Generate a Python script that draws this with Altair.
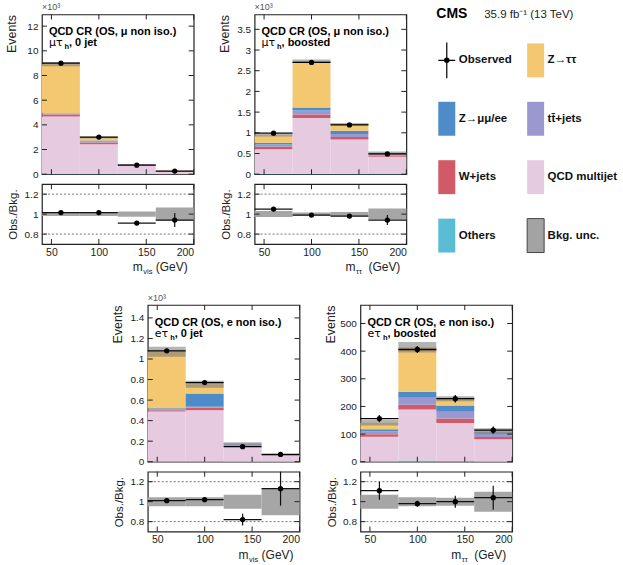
import altair as alt
import pandas as pd

FONT = "Liberation Sans"

# ---------------- shared binning ----------------
bin_lo = [40, 80, 120, 160]
bin_hi = [80, 120, 160, 200]
bin_mid = [60, 100, 140, 180]

# stacking order: bottom -> top
proc_names = ["Others", "QCD multijet", "W+jets", "tt\u0304+jets", "Z→μμ/ee", "Z→ττ"]
proc_colors = ["#5bbdd3", "#e6cae0", "#d25a66", "#9b98cf", "#4d8cc8", "#f3c870"]

# ---------------- panel 1: mu tau_h, 0 jet (x10^3) ----------------
p1_others = [0.02, 0.02, 0.005, 0.003]
p1_qcd = [4.65, 2.40, 0.72, 0.235]
p1_wjets = [0.17, 0.14, 0.04, 0.015]
p1_ttbar = [0.05, 0.08, 0.02, 0.010]
p1_zll = [0.05, 0.10, 0.01, 0.004]
p1_ztt = [3.98, 0.24, 0.005, 0.003]
p1_obs = [9.00, 3.01, 0.73, 0.255]
p1_ratio = [1.015, 1.015, 0.91, 0.94]
p1_ratio_err = [0.01, 0.015, 0.02, 0.07]
p1_unc = [0.02, 0.02, 0.027, 0.065]
p1_yticks = [0, 2, 4, 6, 8, 10, 12]

# ---------------- panel 2: mu tau_h, boosted (x10^3) ----------------
p2_others = [0.01, 0.01, 0.01, 0.005]
p2_qcd = [0.59, 1.35, 0.83, 0.415]
p2_wjets = [0.06, 0.08, 0.06, 0.03]
p2_ttbar = [0.06, 0.10, 0.07, 0.04]
p2_zll = [0.04, 0.07, 0.08, 0.015]
p2_ztt = [0.18, 1.12, 0.16, 0.015]
p2_obs = [0.99, 2.70, 1.19, 0.49]
p2_ratio = [1.05, 0.99, 0.98, 0.94]
p2_ratio_err = [0.02, 0.015, 0.02, 0.05]
p2_unc = [0.03, 0.015, 0.02, 0.055]
p2_yticks = [0, 0.5, 1, 1.5, 2, 2.5, 3, 3.5]

# ---------------- panel 3: e tau_h, 0 jet (x10^3) ----------------
p3_others = [0.005, 0.005, 0.003, 0.001]
p3_qcd = [0.485, 0.495, 0.152, 0.056]
p3_wjets = [0.01, 0.025, 0.008, 0.003]
p3_ttbar = [0.01, 0.01, 0.007, 0.002]
p3_zll = [0.01, 0.13, 0.005, 0.001]
p3_ztt = [0.55, 0.09, 0.003, 0.0]
p3_obs = [1.08, 0.77, 0.146, 0.071]
p3_ratio = [1.01, 1.02, 0.82, 1.13]
p3_ratio_err = [0.015, 0.02, 0.06, 0.17]
p3_unc = [0.045, 0.045, 0.07, 0.135]
p3_yticks = [0, 0.2, 0.4, 0.6, 0.8, 1, 1.2, 1.4]

# ---------------- panel 4: e tau_h, boosted ----------------
p4_others = [2, 4, 3, 1]
p4_qcd = [88, 185, 137, 80]
p4_wjets = [9, 17, 16, 8]
p4_ttbar = [11, 25, 25, 14]
p4_zll = [7, 22, 22, 4]
p4_ztt = [24, 161, 25, 3]
p4_obs = [156, 406, 228, 114]
p4_ratio = [1.11, 0.98, 1.0, 1.04]
p4_ratio_err = [0.09, 0.03, 0.06, 0.12]
p4_unc = [0.07, 0.045, 0.04, 0.10]
p4_yticks = [0, 100, 200, 300, 400, 500]

# ---------------- texts ----------------
panel_title = ["QCD CR (OS, μ non iso.)", "QCD CR (OS, μ non iso.)",
               "QCD CR (OS, e non iso.)", "QCD CR (OS, e non iso.)"]
panel_chan = ["μτ", "μτ", "eτ", "eτ"]
panel_cat = [", 0 jet", ", boosted", ", 0 jet", ", boosted"]
panel_xsub = ["vis", "ττ", "vis", "ττ"]
panel_exp = ["×10³", "×10³", "×10³", ""]
ratio_grid = [0.8, 1.2]
ratio_ticks = [0.8, 1, 1.2]
x_ticks = [50, 100, 150, 200]

leg_labels = ["Observed", "Z→ττ", "Z→μμ/ee", "tt\u0304+jets", "W+jets", "QCD multijet", "Others", "Bkg. unc."]
leg_col = [0, 1, 0, 1, 0, 1, 0, 1]
leg_row = [0, 0, 1, 1, 2, 2, 3, 3]
cms_label = ["CMS"]
lumi_label = ["35.9 fb⁻¹ (13 TeV)"]

W = 152
FRAME = alt.ViewBackground(stroke="#222222", strokeWidth=1.2)
XSCALE = alt.Scale(domain=[40, 200], nice=False, zero=False)
TICK_COLOR = "#222222"


def edge_ticks(X, Y, yvals, h):
    """Inward-pointing major ticks on all four frame edges."""
    ydf = pd.DataFrame(dict(v=yvals))
    xdf = pd.DataFrame(dict(v=x_ticks))
    out = []
    for xv in (2.5, W - 2.5):
        out.append(alt.Chart(ydf).mark_tick(size=5, thickness=1, color=TICK_COLOR, opacity=1).encode(
            y=Y("v:Q"), x=alt.value(xv)))
    for yv in (2.5, h - 2.5):
        out.append(alt.Chart(xdf).mark_tick(size=5, thickness=1, color=TICK_COLOR, opacity=1).encode(
            x=X("v:Q"), y=alt.value(yv)))
    return out


def make_main(k, comps, obs, ratio, ratio_err, unc, ymax, yticks, h):
    rows = []
    for b in range(4):
        base = 0.0
        for name, vals in zip(proc_names, comps):
            rows.append(dict(lo=bin_lo[b], hi=bin_hi[b], y0=base, y1=base + vals[b], proc=name))
            base += vals[b]
    stack = pd.DataFrame(rows)
    tot = [sum(c[b] for c in comps) for b in range(4)]
    bins = pd.DataFrame(dict(lo=bin_lo, hi=bin_hi, mid=bin_mid, tot=tot, obs=obs,
                             ratio=ratio, rerr=ratio_err, unc=unc))
    bins["blo"] = bins["tot"] * (1 - bins["unc"])
    bins["bhi"] = bins["tot"] * (1 + bins["unc"])
    bins["err"] = bins["obs"] * bins["rerr"] / bins["ratio"]
    bins["elo"] = bins["obs"] - bins["err"]
    bins["ehi"] = bins["obs"] + bins["err"]

    ys = alt.Scale(domain=[0, ymax], nice=False, zero=True)
    yax = alt.Axis(values=yticks, format=".1~f", title="Events", titleAnchor="end",
                   titleX=-23, titleFontSize=12.5, titleFontWeight="normal",
                   grid=False, ticks=False, domain=False, labelPadding=4)

    def X(f):
        return alt.X(f, scale=XSCALE, axis=None)

    def Y(f):
        return alt.Y(f, scale=ys, axis=yax)

    stk = alt.Chart(stack).mark_rect().encode(
        x=X("lo:Q"), x2="hi:Q", y=Y("y0:Q"), y2="y1:Q",
        color=alt.Color("proc:N", scale=alt.Scale(domain=proc_names, range=proc_colors), legend=None))
    band = alt.Chart(bins).mark_rect(color="#777777", opacity=0.55).encode(
        x=X("lo:Q"), x2="hi:Q", y=Y("blo:Q"), y2="bhi:Q")
    hbar = alt.Chart(bins).mark_rule(color="black", strokeWidth=1.3).encode(
        x=X("lo:Q"), x2="hi:Q", y=Y("obs:Q"))
    vbar = alt.Chart(bins).mark_rule(color="black", strokeWidth=1.3).encode(
        x=X("mid:Q"), y=Y("elo:Q"), y2="ehi:Q")
    pts = alt.Chart(bins).mark_circle(color="black", size=28, opacity=1).encode(
        x=X("mid:Q"), y=Y("obs:Q"))

    tdf = pd.DataFrame(dict(title=[panel_title[k]], chan=[panel_chan[k]], cat=[panel_cat[k]], sub=["h"]))
    t1 = alt.Chart(tdf).mark_text(align="left", baseline="alphabetic", fontSize=11, fontWeight="bold",
                                  color="black").encode(x=alt.value(7), y=alt.value(21), text="title:N")
    t2 = alt.Chart(tdf).mark_text(align="left", baseline="alphabetic", fontSize=11, font="DejaVu Sans",
                                  color="black").encode(x=alt.value(7), y=alt.value(32), text="chan:N")
    t3 = alt.Chart(tdf).mark_text(align="left", baseline="alphabetic", fontSize=7.5, fontWeight="bold",
                                  color="black").encode(x=alt.value(22.5), y=alt.value(35), text="sub:N")
    t4 = alt.Chart(tdf).mark_text(align="left", baseline="alphabetic", fontSize=11, fontWeight="bold",
                                  color="black").encode(x=alt.value(27), y=alt.value(32), text="cat:N")

    props = dict(width=W, height=h, view=FRAME)
    if panel_exp[k]:
        props["title"] = alt.TitleParams(text=panel_exp[k], anchor="start", frame="group", fontSize=9,
                                         fontWeight="normal", color="#555555", offset=2)
    layers = [stk, band, hbar, vbar, pts] + edge_ticks(X, Y, yticks, h) + [t1, t2, t3, t4]
    return alt.layer(*layers).properties(**props)


def make_ratio(k, ratio, ratio_err, unc):
    df = pd.DataFrame(dict(lo=bin_lo, hi=bin_hi, mid=bin_mid, r=ratio, e=ratio_err, u=unc))
    df["blo"] = 1 - df["u"]
    df["bhi"] = 1 + df["u"]
    df["elo"] = df["r"] - df["e"]
    df["ehi"] = df["r"] + df["e"]
    ys = alt.Scale(domain=[0.7, 1.3], nice=False, zero=False)
    yax = alt.Axis(values=ratio_ticks, format=".1~f", title="Obs./Bkg.", titleX=-23,
                   titleFontSize=11.5, titleFontWeight="normal",
                   grid=False, ticks=False, domain=False, labelPadding=4)
    xax = alt.Axis(values=x_ticks, title=None, grid=False, ticks=False, domain=False, labelPadding=3,
                   labelFontSize=10.5)

    def X(f):
        return alt.X(f, scale=XSCALE, axis=xax)

    def Y(f):
        return alt.Y(f, scale=ys, axis=yax)

    band = alt.Chart(df).mark_rect(color="#a6a6a6").encode(x=X("lo:Q"), x2="hi:Q", y=Y("blo:Q"), y2="bhi:Q")
    grid = alt.Chart(pd.DataFrame(dict(v=ratio_grid))).mark_rule(
        color="#555555", strokeDash=[2, 2], strokeWidth=0.8).encode(y=Y("v:Q"))
    hbar = alt.Chart(df).mark_rule(color="#111111", strokeWidth=1.2).encode(x=X("lo:Q"), x2="hi:Q", y=Y("r:Q"))
    vbar = alt.Chart(df).mark_rule(color="#111111", strokeWidth=1.2).encode(x=X("mid:Q"), y=Y("elo:Q"), y2="ehi:Q")
    pts = alt.Chart(df).mark_circle(color="black", size=28, opacity=1).encode(x=X("mid:Q"), y=Y("r:Q"))

    tdf = pd.DataFrame(dict(m=["m"], sub=[panel_xsub[k]], gev=["(GeV)"]))
    tm = alt.Chart(tdf).mark_text(align="right", baseline="alphabetic", fontSize=12, color="#222222").encode(
        x=alt.value(101), y=alt.value(87), text="m:N")
    ts = alt.Chart(tdf).mark_text(align="left", baseline="alphabetic", fontSize=7.5, color="#222222").encode(
        x=alt.value(101.5), y=alt.value(90), text="sub:N")
    tg = alt.Chart(tdf).mark_text(align="right", baseline="alphabetic", fontSize=12, color="#222222").encode(
        x=alt.value(146), y=alt.value(87), text="gev:N")
    layers = [band, grid, hbar, vbar, pts] + edge_ticks(X, Y, ratio_ticks, 60) + [tm, ts, tg]
    return alt.layer(*layers).properties(width=W, height=60, view=FRAME)


def make_legend():
    df = pd.DataFrame(dict(label=leg_labels, col=leg_col, row=leg_row))
    xs = alt.Scale(type="band", domain=[0, 1], range=[-29, 77], paddingInner=0.809, paddingOuter=0)
    ys = alt.Scale(type="band", domain=[0, 1, 2, 3], range=[29, 238.5], paddingInner=0.419, paddingOuter=0)
    X = alt.X("col:O", scale=xs, axis=None)
    Y = alt.Y("row:O", scale=ys, axis=None)
    base = alt.Chart(df)
    boxes = base.mark_rect().encode(
        x=X, y=Y,
        color=alt.Color("label:N", scale=alt.Scale(domain=proc_names, range=proc_colors), legend=None)
    ).transform_filter(alt.FieldOneOfPredicate(field="label", oneOf=proc_names))
    unc = base.mark_rect(fill="#a3a3a3", stroke="#444444", strokeWidth=1).encode(x=X, y=Y).transform_filter(
        alt.datum.label == "Bkg. unc.")
    cross = base.mark_point(shape="M-0.47,0L0.47,0M0,-1L0,1", size=1296, filled=False, color="black",
                            strokeWidth=1.2, opacity=1).encode(x=X, y=Y).transform_filter(
        alt.datum.label == "Observed")
    dot = base.mark_circle(color="black", size=30, opacity=1).encode(x=X, y=Y).transform_filter(
        alt.datum.label == "Observed")
    labels = base.mark_text(align="left", baseline="middle", dx=12, fontSize=11.5, fontWeight="bold",
                            color="#111111").encode(x=X, y=Y, text="label:N")
    hdr = pd.DataFrame(dict(cms=cms_label, lumi=lumi_label))
    cms = alt.Chart(hdr).mark_text(align="left", baseline="alphabetic", fontSize=14, fontWeight="bold",
                                   color="black").encode(x=alt.value(-31), y=alt.value(4), text="cms:N")
    lumi = alt.Chart(hdr).mark_text(align="left", baseline="alphabetic", fontSize=11.5,
                                    color="#222222").encode(x=alt.value(17), y=alt.value(4), text="lumi:N")
    return alt.layer(boxes, unc, cross, dot, labels, cms, lumi).properties(width=150, height=160)


def blank(w, h):
    return alt.Chart(pd.DataFrame(dict(t=[""]))).mark_text().encode(
        x=alt.value(0), y=alt.value(0), text="t:N").properties(width=w, height=h)


p1_comps = [p1_others, p1_qcd, p1_wjets, p1_ttbar, p1_zll, p1_ztt]
p2_comps = [p2_others, p2_qcd, p2_wjets, p2_ttbar, p2_zll, p2_ztt]
p3_comps = [p3_others, p3_qcd, p3_wjets, p3_ttbar, p3_zll, p3_ztt]
p4_comps = [p4_others, p4_qcd, p4_wjets, p4_ttbar, p4_zll, p4_ztt]

main1 = make_main(0, p1_comps, p1_obs, p1_ratio, p1_ratio_err, p1_unc, 12.95, p1_yticks, 160)
main2 = make_main(1, p2_comps, p2_obs, p2_ratio, p2_ratio_err, p2_unc, 3.86, p2_yticks, 160)
main3 = make_main(2, p3_comps, p3_obs, p3_ratio, p3_ratio_err, p3_unc, 1.526, p3_yticks, 157)
main4 = make_main(3, p4_comps, p4_obs, p4_ratio, p4_ratio_err, p4_unc, 567, p4_yticks, 157)
ratio1 = make_ratio(0, p1_ratio, p1_ratio_err, p1_unc)
ratio2 = make_ratio(1, p2_ratio, p2_ratio_err, p2_unc)
ratio3 = make_ratio(2, p3_ratio, p3_ratio_err, p3_unc)
ratio4 = make_ratio(3, p4_ratio, p4_ratio_err, p4_unc)
legend = make_legend()

grid_opts = dict(columns=3, spacing={"row": 10, "column": 61}, bounds="flush")
top = alt.concat(main1, main2, legend, ratio1, ratio2, blank(1, 1), **grid_opts)
bottom = alt.concat(blank(45, 1), main3, main4, blank(45, 1), ratio3, ratio4, **grid_opts)

chart = alt.vconcat(top, bottom, spacing=16).properties(
    padding={"left": 5, "top": 2, "right": 5, "bottom": 5}
).configure(font=FONT).configure_view(stroke="transparent").configure_axis(
    labelFont=FONT, titleFont=FONT, labelFontSize=10, labelColor="#222222", titleColor="#222222"
).configure_title(font=FONT)

chart.save("out.html", embed_options={"renderer": "svg", "actions": False})
